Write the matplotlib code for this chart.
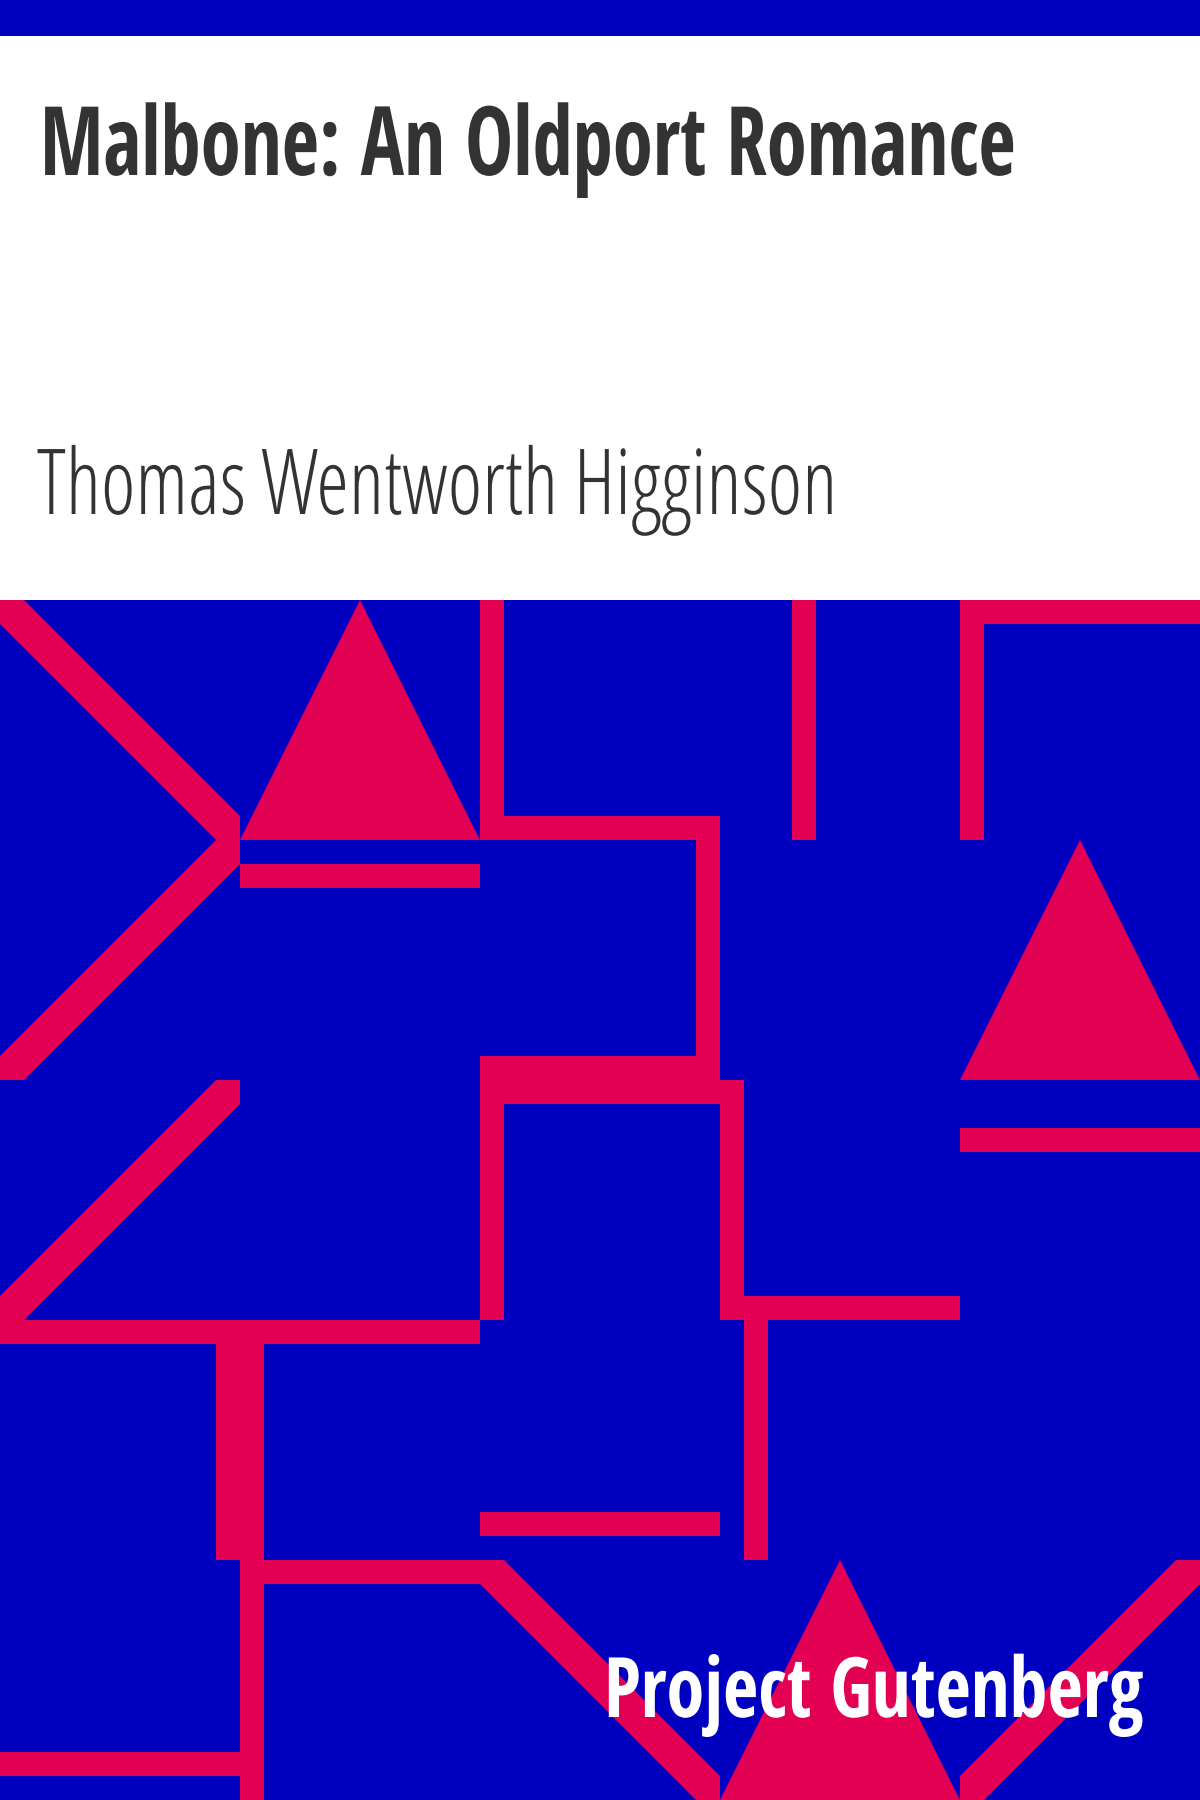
import os
import matplotlib
matplotlib.use("Agg")
import matplotlib.pyplot as plt
from matplotlib.patches import Polygon, Rectangle
from matplotlib import font_manager
from matplotlib.font_manager import FontProperties
from matplotlib.patheffects import AbstractPathEffect
from matplotlib.transforms import Affine2D

BLUE = "#0000C0"
RED = "#E40052"
TEXT_DARK = "#333333"

TITLE = "Malbone: An Oldport Romance"
AUTHOR = "Thomas Wentworth Higginson"
PUBLISHER = "Project Gutenberg"

# pattern in grid units (5x5 cells, y downward)
RECTS = [
    (2.0, 0.0, 2.1, 1.0), (2.0, 0.9, 3.0, 1.0),
    (3.3, 0.0, 3.4, 1.0),
    (4.0, 0.0, 4.1, 1.0), (4.0, 0.0, 5.0, 0.1),
    (1.0, 1.1, 2.0, 1.2),
    (2.9, 1.0, 3.0, 2.0), (2.0, 1.9, 3.0, 2.0),
    (2.0, 2.0, 3.0, 2.1), (2.0, 2.0, 2.1, 3.0),
    (3.0, 2.0, 3.1, 3.0), (3.0, 2.9, 4.0, 3.0),
    (4.0, 2.2, 5.0, 2.3),
    (0.0, 3.0, 1.0, 3.1), (0.9, 3.0, 1.0, 4.0),
    (1.0, 3.0, 2.0, 3.1), (1.0, 3.0, 1.1, 4.0),
    (2.0, 3.8, 3.0, 3.9),
    (3.1, 3.0, 3.2, 4.0),
    (0.0, 4.8, 1.0, 4.9),
    (1.0, 4.0, 1.1, 5.0), (1.0, 4.0, 2.0, 4.1),
]
TRIANGLES = [
    [(1.0, 1.0), (1.5, 0.0), (2.0, 1.0)],
    [(4.0, 2.0), (4.5, 1.0), (5.0, 2.0)],
    [(3.0, 5.0), (3.5, 4.0), (4.0, 5.0)],
]
DIAGONALS = [
    [(0, 0), (0.1, 0), (1, 0.9), (1, 1), (0.9, 1), (0, 0.1)],
    [(0.9, 1), (1, 1), (1, 1.1), (0.1, 2), (0, 2), (0, 1.9)],
    [(0.9, 2), (1, 2), (1, 2.1), (0.1, 3), (0, 3), (0, 2.9)],
    [(2, 4), (2.1, 4), (3, 4.9), (3, 5), (2.9, 5), (2, 4.1)],
    [(4.9, 4), (5, 4), (5, 4.1), (4.1, 5), (4, 5), (4, 4.9)],
]


def find_font(filename):
    for f in font_manager.fontManager.ttflist:
        if os.path.basename(f.fname) == filename:
            return f.fname
    return None


cond_bold_path = find_font("OpenSans-CondBold.ttf")
cond_light_path = find_font("OpenSans-CondLight.ttf")


def fp(path, size, weight):
    if path:
        return FontProperties(fname=path, size=size)
    return FontProperties(family="Open Sans", size=size, weight=weight)


class HStretch(AbstractPathEffect):
    """Squeeze glyphs horizontally about a fixed display x."""

    def __init__(self, sx, x0):
        super().__init__()
        self.sx = sx
        self.x0 = x0

    def draw_path(self, renderer, gc, tpath, affine, rgbFace=None):
        t = affine + Affine2D().translate(-self.x0, 0).scale(self.sx, 1).translate(self.x0, 0)
        renderer.draw_path(gc, tpath, t, rgbFace)


fig = plt.figure(figsize=(12, 18), dpi=100)
fig.patch.set_facecolor("white")

# header
hax = fig.add_axes([0, 2 / 3, 1, 1 / 3])
hax.set_xlim(0, 1200)
hax.set_ylim(600, 0)
hax.axis("off")
hax.add_patch(Rectangle((0, 0), 1200, 36, color=BLUE, lw=0))
t_title = hax.text(40, 175, TITLE, fontproperties=fp(cond_bold_path, 70.6, "bold"),
                   color=TEXT_DARK, va="baseline", ha="left")
t_author = hax.text(37, 514, AUTHOR, fontproperties=fp(cond_light_path, 65.5, "light"),
                    color=TEXT_DARK, va="baseline", ha="left")

# pattern
pax = fig.add_axes([0, 0, 1, 2 / 3])
pax.set_xlim(0, 5)
pax.set_ylim(5, 0)
pax.axis("off")
pax.add_patch(Rectangle((0, 0), 5, 5, color=BLUE, lw=0))
for x0, y0, x1, y1 in RECTS:
    pax.add_patch(Rectangle((x0, y0), x1 - x0, y1 - y0, color=RED, lw=0))
for pts in TRIANGLES + DIAGONALS:
    pax.add_patch(Polygon(pts, closed=True, color=RED, lw=0))

t_pub = pax.text(604 / 240, (1717 - 600) / 240, PUBLISHER,
                 fontproperties=fp(cond_bold_path, 64.5, "bold"),
                 color="white", va="baseline", ha="left")


def fit_width(txt, target_w, max_right=1192):
    fig.canvas.draw()
    r = fig.canvas.get_renderer()
    bb = txt.get_window_extent(renderer=r)
    if bb.x1 > max_right:
        txt.set_fontsize(txt.get_fontsize() * (max_right - bb.x0) / bb.width)
        fig.canvas.draw()
        bb = txt.get_window_extent(renderer=r)
    sx = min(1.0, target_w / bb.width)
    txt.set_path_effects([HStretch(sx, bb.x0)])


fit_width(t_title, 976)
fit_width(t_author, 800)
fit_width(t_pub, 540)

fig.savefig("out.png", dpi=100, facecolor="white")
